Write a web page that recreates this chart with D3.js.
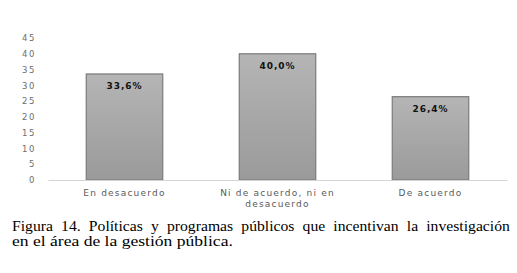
<!DOCTYPE html>
<html>
<head>
<meta charset="utf-8">
<script src="https://cdn.jsdelivr.net/npm/d3@7"></script>
<style>
  body { margin: 0; background: #fff; }
  svg { display: block; }
</style>
</head>
<body>
<div id="chart"></div>
<script>
    var w = 517;
    var h = 273;

    // datos
    var categories = ['En desacuerdo', 'Ni de acuerdo, ni en desacuerdo', 'De acuerdo'];
    var catLines = [['En desacuerdo'], ['Ni de acuerdo, ni en', 'desacuerdo'], ['De acuerdo']];
    var values = [33.6, 40.0, 26.4];
    var valueLabels = ['33,6%', '40,0%', '26,4%'];
    var yTicks = [0, 5, 10, 15, 20, 25, 30, 35, 40, 45];
    var caption = ['Figura 14. Políticas y programas públicos que incentivan la investigación',
                   'en el área de la gestión pública.'];

    var x = d3.scaleBand()
              .domain(categories)
              .range([48, 507])
              .paddingInner(0.5)
              .paddingOuter(0.25);

    var y = d3.scaleLinear()
              .domain([0, 45])
              .range([180, 38]);

    var svg = d3.select('#chart').append('svg')
                .attr('width', w)
                .attr('height', h);

    var grad = svg.append('defs').append('linearGradient')
                  .attr('id', 'barGrad')
                  .attr('x1', 0).attr('y1', 0)
                  .attr('x2', 0).attr('y2', 1);
    grad.append('stop').attr('offset', '0%').attr('stop-color', '#b5b5b5');
    grad.append('stop').attr('offset', '100%').attr('stop-color', '#9a9a9a');

    // eje y (solo etiquetas)
    var yAxis = d3.axisLeft(y)
                  .tickValues(yTicks)
                  .tickSize(0)
                  .tickPadding(0);
    var gy = svg.append('g')
        .attr('transform', 'translate(36,0)')
        .call(yAxis);
    gy.select('.domain').remove();
    gy.selectAll('text')
      .attr('fill', '#6e6e6e')
      .style('font-family', 'DejaVu Sans, Verdana, sans-serif')
      .style('font-size', '8.5px')
      .style('letter-spacing', '1.6px');

    // barras
    var bar = svg.selectAll('.bar')
        .data(values)
        .enter().append('g')
        .attr('class', 'bar')
        .attr('transform', function(d, i) {
            return 'translate(' + [x(categories[i]), y(d)] + ')';
        });

    bar.append('rect')
        .attr('width', x.bandwidth())
        .attr('height', function(d) { return y(0) - y(d); })
        .attr('fill', 'url(#barGrad)')
        .attr('stroke', '#7b7b7b')
        .attr('stroke-width', 1.2);

    bar.append('text')
        .attr('x', x.bandwidth() / 2)
        .attr('y', 15)
        .attr('text-anchor', 'middle')
        .attr('fill', '#111')
        .style('font-family', 'DejaVu Sans, Verdana, sans-serif')
        .style('font-weight', 'bold')
        .style('font-size', '9px')
        .style('letter-spacing', '1px')
        .text(function(d, i) { return valueLabels[i]; });

    // eje x
    var xAxis = d3.axisBottom(x).tickSize(0).tickFormat('');
    var gx = svg.append('g')
        .attr('transform', 'translate(0,' + y(0) + ')')
        .call(xAxis);
    gx.select('.domain').attr('stroke', '#d4d4d4').attr('stroke-width', 1);

    categories.forEach(function(c, i) {
        var t = svg.append('text')
            .attr('x', x(c) + x.bandwidth() / 2)
            .attr('y', 196)
            .attr('text-anchor', 'middle')
            .attr('fill', '#5a5a5a')
            .style('font-family', 'DejaVu Sans, Verdana, sans-serif')
            .style('font-size', '9px')
            .style('letter-spacing', '1.2px');
        catLines[i].forEach(function(line, j) {
            t.append('tspan')
             .attr('x', x(c) + x.bandwidth() / 2)
             .attr('dy', j === 0 ? 0 : 11)
             .text(line);
        });
    });

    // leyenda de figura (ancho ajustado al de la imagen)
    var capW = [498, 221];
    var capY = [231, 246];
    caption.forEach(function(line, i) {
        var g = svg.append('g');
        var t = g.append('text')
            .attr('x', 0)
            .attr('y', capY[i])
            .style('font-family', 'Liberation Serif, Times New Roman, serif')
            .style('font-size', '14px')
            .attr('fill', '#000')
            .text(line);
        var len = t.node().getComputedTextLength();
        var si = capW[i] / len;
        if (i === 0 && si > 1.12) {
            // línea justificada: espacio extra entre palabras
            var nSp = line.split(' ').length - 1;
            si = 1.12;
            t.style('word-spacing', ((capW[0] / si - len) / nSp) + 'px');
        }
        g.attr('transform', 'translate(12,0) scale(' + si + ',1)');
    });
</script>
</body>
</html>
